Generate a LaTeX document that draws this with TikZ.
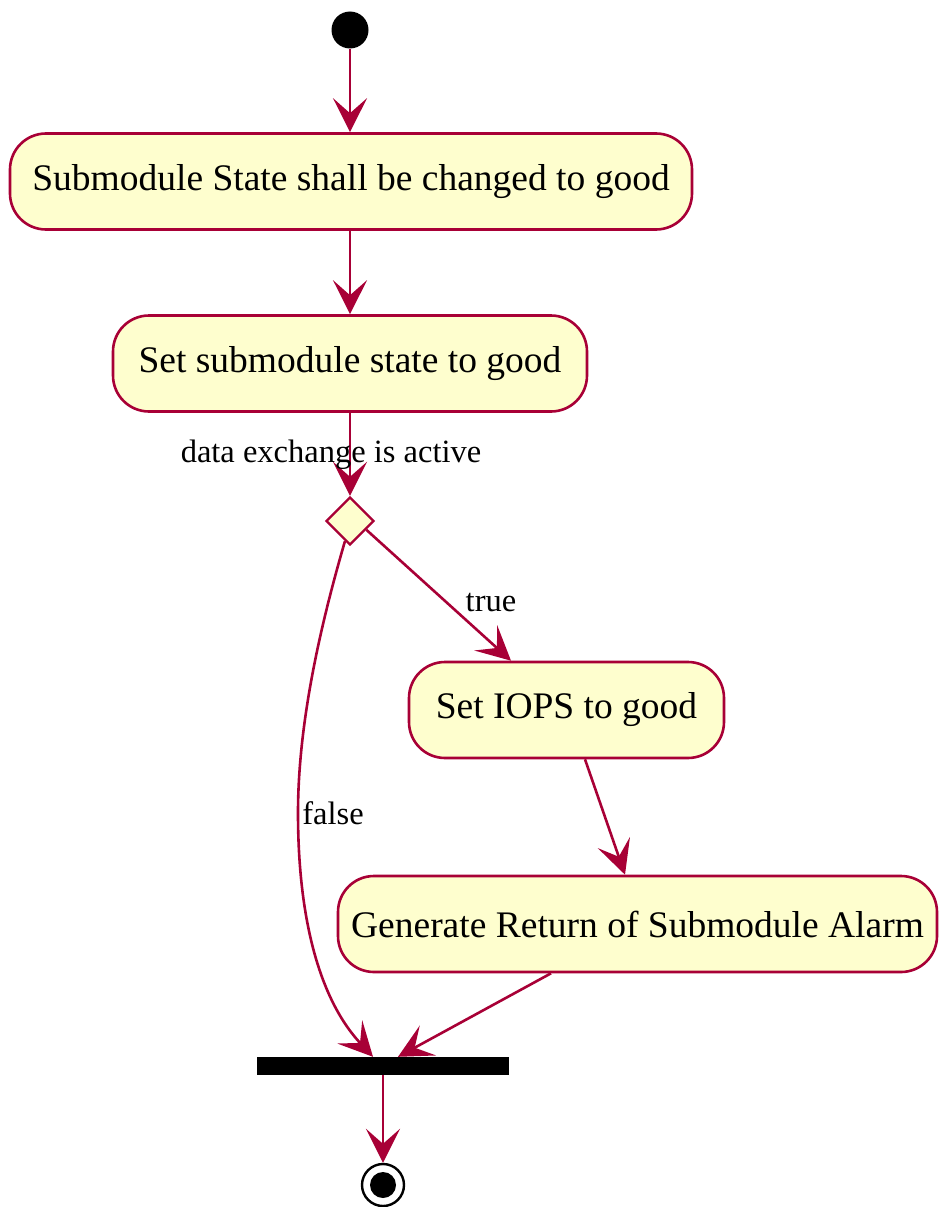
\documentclass[tikz,border=0pt]{standalone}
\usepackage{fontspec}
\setmainfont{Liberation Serif}
\usetikzlibrary{arrows.meta,shapes.geometric,calc}
\definecolor{umlred}{HTML}{A80036}
\definecolor{umlfill}{HTML}{FEFECE}
\begin{document}
\begin{tikzpicture}[x=1pt,y=-1pt,
  action/.style={draw=umlred,fill=umlfill,line width=2.6pt,rounded corners=36pt,
    rectangle,minimum height=96pt,inner sep=0pt,
    font=\fontsize{37.5}{42}\selectfont},
  flow/.style={draw=umlred,line width=2.6pt,
    -{Stealth[length=34pt,width=34pt,inset=15pt,fill=umlred]}},
  guard/.style={font=\fontsize{32.5}{36}\selectfont,inner sep=0pt}]
\useasboundingbox (0,0) rectangle (939,1207);
% initial and final states
\node[circle,fill=black,minimum size=37pt,inner sep=0pt] (start) at (350,30) {};
\node[circle,draw=black,line width=2.4pt,fill=white,minimum size=42pt,inner sep=0pt] (stop) at (383,1185) {};
\fill (stop.center) circle (13);
% actions
\node[action,minimum width=682pt] (a1) at (351,181.5) {Submodule State shall be changed to good};
\node[action,minimum width=474pt] (a2) at (350,363.5) {Set submodule state to good};
\node[action,minimum width=315pt] (a3) at (566.5,710) {Set IOPS to good};
\node[action,minimum width=599pt] (a4) at (637.5,924) {Generate Return of Submodule Alarm};
% decision and join bar
\node[diamond,draw=umlred,fill=umlfill,line width=2.4pt,minimum size=48pt,inner sep=0pt] (dec) at (350,521) {};
\node[rectangle,fill=black,minimum width=252pt,minimum height=18pt,inner sep=0pt] (bar) at (383,1066) {};
\coordinate (bend) at (298,813);
% connectors
\draw[flow] (start) -- (start |- a1.north);
\draw[flow] (a2.north |- a1.south) -- (a2.north);
\draw[flow] (a2.south) -- (dec.north);
\node[guard] at (331,455) {data exchange is active};
\draw[flow] ($(dec.east)!0.35!(dec.south)$) -- ($(a3.north)+(-55.5,0)$);
\node[guard] at (491,603) {true};
\draw[flow] ($(dec.south)!0.2!(dec.west)$) .. controls (322,620) and (298,720) .. (bend)
  .. controls (298,920) and (320,1000) .. ($(bar.north)+(-10,0)$);
\node[guard] at (333,813) {false};
\draw[flow] ($(a3.south)+(18.5,0)$) -- ($(a4.north)+(-12.5,0)$);
\draw[flow] ($(a4.south)+(-86.5,0)$) -- ($(bar.north)+(15,0)$);
\draw[flow] (bar.south) -- (stop.north);
\end{tikzpicture}
\end{document}
